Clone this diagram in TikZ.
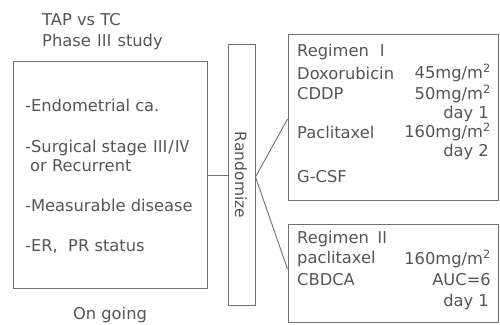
\documentclass[tikz,border=0pt]{standalone}
\usepackage{fontspec}
\setmainfont{DejaVu Sans}
\newfontfamily\cjk{Noto Sans CJK JP}
\definecolor{ink}{HTML}{555555}
\definecolor{edge}{HTML}{707070}
\newcommand{\rmI}{{\cjk Ⅰ}}
\newcommand{\rmII}{{\cjk Ⅱ}}
\newcommand{\rmIII}{{\cjk Ⅲ}}
\newcommand{\rmIV}{{\cjk Ⅳ}}
\begin{document}
\begin{tikzpicture}[x=1pt,y=-1pt,
  box/.style={draw=edge,line width=1pt,inner sep=0pt},
  txt/.style={text=ink,font=\fontsize{16.3}{18}\selectfont,inner sep=0pt},
  lt/.style={txt,anchor=west},
  rt/.style={txt,anchor=east},
  conn/.style={draw=edge,line width=0.9pt}]
\useasboundingbox (0,0) rectangle (500,324);
% boxes
\node[box,minimum width=194pt,minimum height=227pt] (crit) at (110,174.5) {};
\node[box,minimum width=27pt,minimum height=261pt] (rand) at (241.5,174.5) {};
\node[box,minimum width=210pt,minimum height=166pt] (reg1) at (393,117) {};
\node[box,minimum width=210pt,minimum height=98pt] (reg2) at (393,273) {};
% title
\node[lt] (t1) at (42,20) {TAP vs TC};
\node[lt] (t2) at (42,42) {Phase \rmIII\ study};
% criteria
\node[lt] (c1) at (25,105) {-Endometrial ca.};
\node[lt] (c2) at (25,148) {-Surgical stage \rmIII/\rmIV};
\node[lt] (c3) at (30,166) {or Recurrent};
\node[lt] (c4) at (25,205) {-Measurable disease};
\node[lt] (c5) at (25,247) {-ER,\ \ PR status};
\node[txt] (og) at (110,315) {On going};
% randomize
\node[txt,rotate=-90,font=\fontsize{15.5}{18}\selectfont] (rl) at (241,175) {Randomize};
% regimen I
\node[lt] (r1a) at (297,52) {Regimen \rmI};
\node[lt] (r1b) at (297,73) {Doxorubicin};
\node[rt] (r1c) at (491,73) {45mg/m\textsuperscript{2}};
\node[lt] (r1d) at (297,94) {CDDP};
\node[rt] (r1e) at (491,94) {50mg/m\textsuperscript{2}};
\node[rt] (r1f) at (489,114) {day 1};
\node[lt] (r1g) at (297,132) {Paclitaxel};
\node[rt] (r1h) at (491,132) {160mg/m\textsuperscript{2}};
\node[rt] (r1i) at (489,152) {day 2};
\node[lt] (r1j) at (297,177) {G-CSF};
% regimen II
\node[lt] (r2a) at (297,239) {Regimen \rmII};
\node[lt] (r2b) at (297,259) {paclitaxel};
\node[rt] (r2c) at (491,259) {160mg/m\textsuperscript{2}};
\node[lt] (r2d) at (297,280) {CBDCA};
\node[rt] (r2e) at (491,280) {AUC=6};
\node[rt] (r2f) at (489,302) {day 1};
% connectors
\coordinate (fork) at (rand.east |- 0,177);
\draw[conn] (crit.east |- 0,175) -- (rand.west |- 0,175);
\draw[conn] (fork) -- (reg1.west |- 0,119);
\draw[conn] (fork) -- (reg2.west |- 0,269);
\end{tikzpicture}
\end{document}
